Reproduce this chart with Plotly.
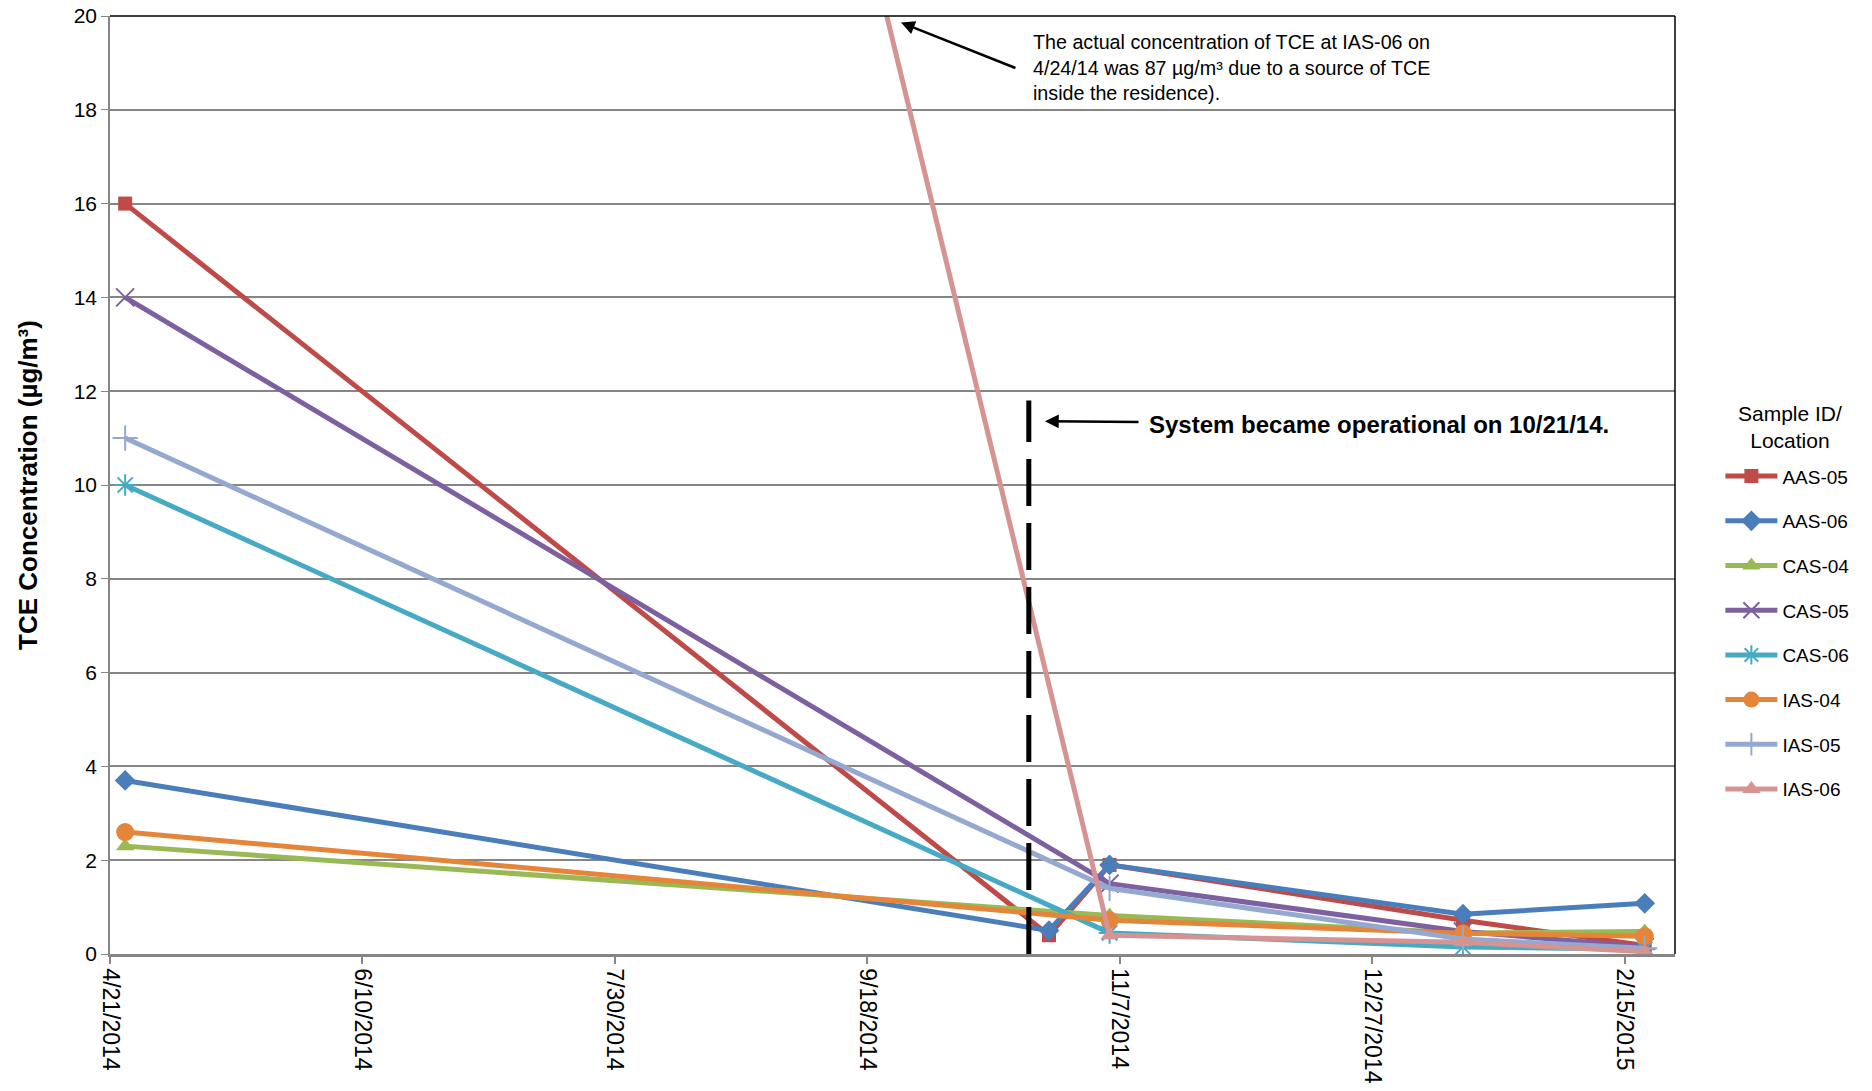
import plotly.graph_objects as go

# ---- data ----
dates_aas = ["2014-04-24", "2014-10-24", "2014-11-05", "2015-01-14", "2015-02-19"]
dates_std = ["2014-04-24", "2014-11-05", "2015-01-14", "2015-02-19"]

aas05 = [16, 0.4, 1.9, 0.72, 0.18]
aas06 = [3.7, 0.5, 1.9, 0.85, 1.08]
cas04 = [2.3, 0.82, 0.45, 0.48]
cas05 = [14, 1.5, 0.48, 0.15]
cas06 = [10, 0.45, 0.15, 0.1]
ias04 = [2.6, 0.72, 0.44, 0.38]
ias05 = [11, 1.4, 0.32, 0.12]
ias06 = [87, 0.4, 0.25, 0.05]

x_tick_vals = ["2014-04-21", "2014-06-10", "2014-07-30", "2014-09-18",
               "2014-11-07", "2014-12-27", "2015-02-15"]
x_tick_text = ["4/21/2014", "6/10/2014", "7/30/2014", "9/18/2014",
               "11/7/2014", "12/27/2014", "2/15/2015"]
y_ticks = [0, 2, 4, 6, 8, 10, 12, 14, 16, 18, 20]
system_start = "2014-10-20"

FONT = "Liberation Sans, Arial, sans-serif"

series = [
    ("AAS-05", dates_aas, aas05, "#BE4B48", "square", 14, 0),
    ("AAS-06", dates_aas, aas06, "#4A7EBB", "diamond", 16, 0),
    ("CAS-04", dates_std, cas04, "#98B954", "triangle-up", 16, 0),
    ("CAS-05", dates_std, cas05, "#7D60A0", "x-thin-open", 18, 2),
    ("CAS-06", dates_std, cas06, "#46AAC5", "asterisk-open", 18, 2),
    ("IAS-04", dates_std, ias04, "#E5853A", "circle", 18, 0),
    ("IAS-05", dates_std, ias05, "#94A8D0", "cross-thin-open", 18, 2),
    ("IAS-06", dates_std, ias06, "#D59392", "triangle-up", 16, 0),
]

fig = go.Figure()
for name, xs, ys, color, sym, size, lw in series:
    fig.add_trace(go.Scatter(
        x=xs, y=ys, name=name, mode="lines+markers",
        line=dict(color=color, width=5),
        marker=dict(symbol=sym, size=size, color=color,
                    line=dict(color=color, width=lw)),
        legendgroup=name,
    ))

# dashed vertical line for system start
fig.add_shape(type="line", xref="x", yref="y",
              x0=system_start, x1=system_start, y0=0, y1=11.8,
              line=dict(color="black", width=5, dash="47px,17px"))

# plot border top & right
fig.add_shape(type="line", xref="paper", yref="paper", x0=0, x1=1, y0=1, y1=1,
              line=dict(color="black", width=1.5))
fig.add_shape(type="line", xref="paper", yref="paper", x0=1, x1=1, y0=0, y1=1,
              line=dict(color="black", width=1.5))

# annotations
fig.add_annotation(xref="paper", yref="paper", x=0.5883, y=0.986,
                   xanchor="left", yanchor="top", align="left", showarrow=False,
                   text="The actual concentration of TCE at IAS-06 on<br>"
                        "4/24/14 was 87 µg/m³ due to a source of TCE<br>"
                        "inside the residence).",
                   font=dict(family=FONT, size=19.7, color="black"))
fig.add_annotation(xref="paper", yref="paper", x=0.5054, y=0.993,
                   ax=116, ay=46, axref="pixel", ayref="pixel",
                   text="", showarrow=True, arrowhead=2, arrowsize=1.1,
                   arrowwidth=2.5, arrowcolor="black")
fig.add_annotation(xref="paper", yref="paper", x=(1045 - 110) / 1565, y=1 - (421 - 15.5) / 938.5,
                   ax=334, ay=3, axref="pixel", ayref="pixel",
                   showarrow=True, arrowhead=2, arrowsize=1.1,
                   arrowwidth=2.5, arrowcolor="black", startstandoff=9,
                   text="<b>System became operational on 10/21/14.</b>",
                   font=dict(family=FONT, size=24, color="black"))

# legend heading
fig.add_annotation(xref="paper", yref="paper", x=(1790 - 110) / 1565,
                   y=1 - (426.5 - 15.5) / 938.5, xanchor="center", yanchor="middle",
                   showarrow=False, align="center",
                   text="Sample ID/<br>Location",
                   font=dict(family=FONT, size=21, color="black"))

fig.update_layout(
    width=1872, height=1091,
    margin=dict(l=110, r=197, t=16, b=137),
    paper_bgcolor="white", plot_bgcolor="white",
    font=dict(family=FONT, size=20, color="black"),
    showlegend=True,
    legend=dict(
        x=1.029, xanchor="left", y=0.5296, yanchor="top",
        font=dict(family=FONT, size=19),
        traceorder="grouped", tracegroupgap=17,
        itemwidth=52,
    ),
    xaxis=dict(
        type="date", range=["2014-04-21", "2015-02-25"],
        tickvals=x_tick_vals, ticktext=x_tick_text, tickangle=90,
        showgrid=False, showline=True, linecolor="#868686", linewidth=2.5,
        ticks="outside", tickcolor="#868686", ticklen=7, tickwidth=1.5,
        tickfont=dict(family=FONT, size=23), zeroline=False, automargin=False,
        ticklabeloverflow="allow",
    ),
    yaxis=dict(
        range=[0, 20], tickvals=y_ticks,
        showgrid=True, gridcolor="#868686", gridwidth=1.5,
        showline=True, linecolor="#868686", linewidth=1.5,
        ticks="outside", tickcolor="#868686", ticklen=7,
        tickfont=dict(family=FONT, size=21), zeroline=False, automargin=False,
        ticklabeloverflow="allow",
        title=dict(text="<b>TCE Concentration (µg/m³)</b>",
                   font=dict(family=FONT, size=26), standoff=29),
    ),
)

fig.write_html("out.html",
               config={"displayModeBar": False},
               post_script="document.body.style.margin='0px';")
